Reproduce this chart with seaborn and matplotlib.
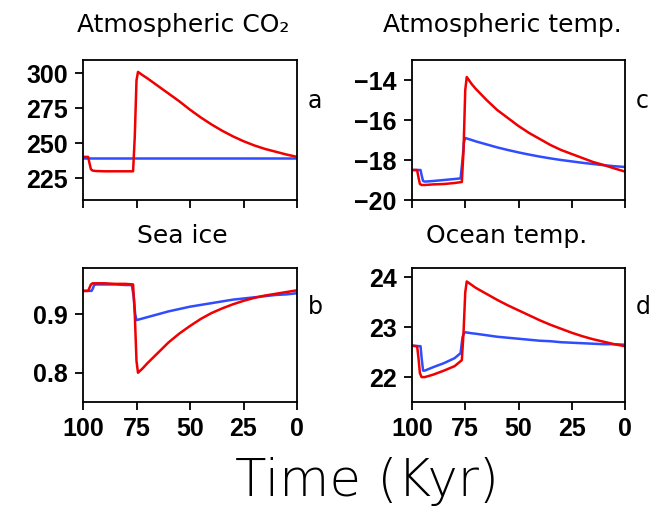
import numpy as np
import pandas as pd
import matplotlib
matplotlib.use("Agg")
import matplotlib.pyplot as plt
import seaborn as sns

# time axis (kyr before present) for the two runs
t_red = [100, 97.6, 97.0, 96.3, 95.5, 94, 90, 85, 80, 76.6, 75.8, 75.0, 74.3, 72, 70,
         65, 60, 55, 50, 45, 40, 35, 30, 25, 20, 15, 10, 5, 0]
t_blue = [100, 96.0, 95.4, 94.8, 94, 90, 85, 80, 77.2, 76.3, 75.6, 75.0, 72, 70,
          65, 60, 55, 50, 45, 40, 35, 30, 25, 20, 15, 10, 5, 0]

co2_red = [240.3, 240.3, 236, 231.5, 230.5, 230.2, 230, 230, 230, 230, 255, 295, 301, 298.5, 296.5,
           291, 285.5, 280, 274, 268.5, 263.5, 259, 255, 251.5, 248.5, 246, 244, 242, 240.3]
co2_blue = [239.6] * len(t_blue)

atm_red = [-18.5, -18.5, -18.85, -19.2, -19.25, -19.25, -19.22, -19.2, -19.15, -19.1, -17.5, -14.5,
           -13.85, -14.2, -14.45, -15.0, -15.5, -15.9, -16.3, -16.65, -16.95, -17.25, -17.5,
           -17.7, -17.9, -18.1, -18.25, -18.42, -18.58]
atm_blue = [-18.5, -18.5, -18.8, -19.05, -19.08, -19.05, -19.0, -18.95, -18.92, -18.0, -17.1, -16.9,
            -17.0, -17.07, -17.22, -17.37, -17.5, -17.62, -17.73, -17.83, -17.92, -18.0, -18.07,
            -18.14, -18.2, -18.26, -18.31, -18.35]

ice_red = [0.940, 0.940, 0.945, 0.951, 0.953, 0.953, 0.953, 0.952, 0.952, 0.951, 0.90, 0.82, 0.800,
           0.808, 0.816, 0.834, 0.852, 0.867, 0.880, 0.892, 0.902, 0.910, 0.917, 0.923, 0.928,
           0.932, 0.935, 0.938, 0.941]
ice_blue = [0.940, 0.940, 0.944, 0.950, 0.951, 0.951, 0.951, 0.950, 0.950, 0.93, 0.90, 0.890, 0.893,
            0.895, 0.900, 0.905, 0.909, 0.913, 0.916, 0.919, 0.922, 0.925, 0.927, 0.929, 0.931,
            0.933, 0.934, 0.936]

ocn_red = [22.63, 22.62, 22.4, 22.08, 22.0, 22.0, 22.05, 22.13, 22.22, 22.34, 22.9, 23.7, 23.92,
           23.85, 23.79, 23.67, 23.55, 23.44, 23.34, 23.24, 23.14, 23.05, 22.97, 22.89, 22.82,
           22.76, 22.71, 22.66, 22.62]
ocn_blue = [22.63, 22.62, 22.35, 22.13, 22.13, 22.2, 22.28, 22.38, 22.48, 22.8, 22.88, 22.9, 22.88,
            22.87, 22.84, 22.81, 22.79, 22.77, 22.75, 22.73, 22.72, 22.7, 22.69, 22.68, 22.67,
            22.66, 22.66, 22.65]

titles = ["Atmospheric CO\u2082", "Atmospheric temp.", "Sea ice", "Ocean temp."]
letters = ["a", "c", "b", "d"]
ylims = [(209.5, 309.5), (-20, -13), (0.75, 0.98), (21.5, 24.2)]
yticks = [[225, 250, 275, 300], [-20, -18, -16, -14], [0.8, 0.9], [22, 23, 24]]
ylabels = [["225", "250", "275", "300"], ["\u221220", "\u221218", "\u221216", "\u221214"],
           ["0.8", "0.9"], ["22", "23", "24"]]
xticks = [100, 75, 50, 25, 0]

sns.set_style("ticks")
tick_font = {"family": ["Liberation Sans", "DejaVu Sans"], "weight": "bold", "size": 18}
thin = ["DejaVu Sans"]

W, H = 661, 507
fig = plt.figure(figsize=(6.61, 5.07), dpi=100)

boxes = [(83, 60, 297, 200), (412, 60, 625, 200), (83, 267.5, 297, 402), (412, 267.5, 625, 402)]
series = [(co2_red, co2_blue), (atm_red, atm_blue), (ice_red, ice_blue), (ocn_red, ocn_blue)]
title_pos = [(183, 25), (502, 25), (182, 236), (507, 236)]

for i in range(4):
    x0, y0, x1, y1 = boxes[i]
    ax = fig.add_axes([x0 / W, 1 - y1 / H, (x1 - x0) / W, (y1 - y0) / H])
    red, blue = series[i]
    df = pd.concat([
        pd.DataFrame({"time": t_blue, "value": blue, "run": "blue"}),
        pd.DataFrame({"time": t_red, "value": red, "run": "red"}),
    ])
    sns.lineplot(data=df, x="time", y="value", hue="run", hue_order=["blue", "red"],
                 palette={"blue": "#2f4cff", "red": "#f00000"}, lw=1.8, legend=False,
                 estimator=None, ax=ax)
    ax.set_xlim(100, 0)
    ax.set_ylim(*ylims[i])
    ax.set_xticks(xticks)
    ax.set_yticks(yticks[i])
    ax.set_yticklabels(ylabels[i], fontdict=tick_font)
    if i >= 2:
        ax.set_xticklabels([str(v) for v in xticks], fontdict=tick_font)
    else:
        ax.set_xticklabels([])
    ax.set_xlabel("")
    ax.set_ylabel("")
    ax.tick_params(direction="out", length=6, width=1.3, pad=5, colors="black")
    for s in ax.spines.values():
        s.set_visible(True)
        s.set_linewidth(1.3)
        s.set_color("black")
    ax.text(1.05, 0.71, letters[i], transform=ax.transAxes, ha="left", va="center",
            fontsize=17, family=thin, color="black")
    tx, ty = title_pos[i]
    fig.text(tx / W, 1 - ty / H, titles[i], ha="center", va="center",
             fontsize=18, family=thin, color="black")

fig.text(367 / W, 1 - 482 / H, "Time (Kyr)", ha="center", va="center",
         fontsize=37, family=thin, color="black", fontweight="light")

fig.savefig("out.png", dpi=100)
